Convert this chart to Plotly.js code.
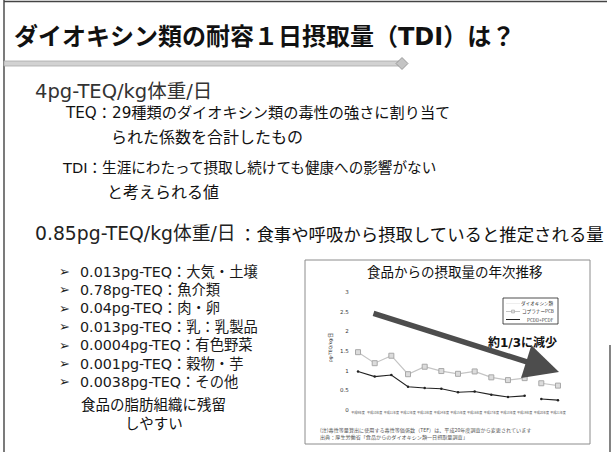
<!DOCTYPE html>
<html>
<head>
<meta charset="utf-8">
<script src="https://cdn.plot.ly/plotly-3.0.1.min.js"></script>
<style>html,body{margin:0;padding:0;background:#fff;}#chart{width:612px;height:452px;}</style>
</head>
<body>
<div id="chart"></div>
<script>
// ---- data ----
const years = ['平成9年度','平成10年度','平成11年度','平成12年度','平成13年度','平成14年度','平成15年度','平成16年度','平成17年度','平成18年度','平成19年度','平成20年度','平成21年度'];
const coplanarPCB = [1.47, 1.19, 1.38, 0.91, 1.10, 0.99, 0.92, 0.98, 0.83, 0.76, 0.81, 0.68, 0.62];
const pcddPcdf    = [0.98, 0.85, 0.89, 0.59, 0.56, 0.54, 0.45, 0.47, 0.39, 0.33, 0.36, 0.28, 0.25];
const seriesNames = ['ダイオキシン類', 'コプラナーPCB', 'PCDD+PCDF'];
const tefChangeIndex = 11; // TEF changed: line is not connected across this point
const yTicks = [0, 0.5, 1, 1.5, 2, 2.5, 3];

const slideTitle = 'ダイオキシン類の耐容１日摂取量（TDI）は？';
const tdiValue = '4pg-TEQ/kg体重/日';
const teqDef1 = 'TEQ：29種類のダイオキシン類の毒性の強さに割り当て';
const teqDef2 = 'られた係数を合計したもの';
const tdiDef1 = 'TDI：生涯にわたって摂取し続けても健康への影響がない';
const tdiDef2 = 'と考えられる値';
const intakeValue = '0.85pg-TEQ/kg体重/日';
const intakeNote = '：食事や呼吸から摂取していると推定される量';
const sourceItems = ['0.013pg-TEQ：大気・土壌','0.78pg-TEQ：魚介類','0.04pg-TEQ：肉・卵','0.013pg-TEQ：乳：乳製品','0.0004pg-TEQ：有色野菜','0.001pg-TEQ：穀物・芋','0.0038pg-TEQ：その他'];
const fatNote = ['食品の脂肪組織に残留', 'しやすい'];
const chartTitle = '食品からの摂取量の年次推移';
const yTitle = 'pg-TEQ/kg/日';
const trendLabel = '約1/3に減少';
const footnotes = ['(注)毒性等量算出に使用する毒性等価係数（TEF）は、平成20年度調査から変更されています', '出典：厚生労働省「食品からのダイオキシン類一日摂取量調査」'];

// ---- helpers ----
const W = 612, H = 452;
const px = x => x / W;
const py = y => 1 - y / H;
const FONT = 'DejaVu Sans, Noto Sans CJK JP, sans-serif';
const CJK = 'Noto Sans CJK JP, sans-serif';

function txt(text, x, y, size, opts) {
  opts = opts || {};
  return Object.assign({
    text: text, xref: 'paper', yref: 'paper', x: px(x), y: py(y),
    xanchor: opts.xanchor || 'left', yanchor: 'middle', showarrow: false,
    font: {family: opts.family || FONT, size: size, color: opts.color || '#111', weight: opts.weight || 'normal'}
  }, opts.extra || {});
}

// ---- traces ----
const pre = [0, tefChangeIndex], post = [tefChangeIndex, years.length];
function seg(arr, r) { return arr.slice(r[0], r[1]); }
const pcbStyle = {mode: 'lines+markers', line: {color: '#c4c4c4', width: 1.2}, marker: {symbol: 'square', size: 5, color: '#dcdcdc', line: {color: '#a8a8a8', width: 1}}, showlegend: false, cliponaxis: false};
const pcdStyle = {mode: 'lines+markers', line: {color: '#222', width: 1.1}, marker: {symbol: 'circle', size: 2.5, color: '#222'}, showlegend: false, cliponaxis: false};
const traces = [
  Object.assign({type: 'scatter', name: seriesNames[1], x: seg(years, pre), y: seg(coplanarPCB, pre)}, pcbStyle),
  Object.assign({type: 'scatter', name: seriesNames[1], x: seg(years, post), y: seg(coplanarPCB, post)}, pcbStyle),
  Object.assign({type: 'scatter', name: seriesNames[2], x: seg(years, pre), y: seg(pcddPcdf, pre)}, pcdStyle),
  Object.assign({type: 'scatter', name: seriesNames[2], x: seg(years, post), y: seg(pcddPcdf, post)}, pcdStyle)
];

// ---- annotations ----
const ann = [];
ann.push(txt(slideTitle, 12, 37, 24, {weight: 'bold'}));
ann.push(txt(tdiValue, 33, 92, 19.5, {color: '#333'}));
ann.push(txt(teqDef1, 63, 113, 15.2));
ann.push(txt(teqDef2, 109, 138, 16));
ann.push(txt(tdiDef1, 60, 167, 14.6));
ann.push(txt(tdiDef2, 105, 192, 16));
ann.push(txt(intakeValue, 33, 233, 18.8, {color: '#222'}));
ann.push(txt(intakeNote, 606, 233, 17.4, {xanchor: 'right', family: CJK}));
sourceItems.forEach((s, i) => {
  const y = 271.5 + i * 18.4;
  ann.push(txt('➢', 57, y, 13, {color: '#222'}));
  ann.push(txt(s, 78, y, 14.3, {color: '#1a1a1a'}));
});
ann.push(txt(fatNote[0], 153, 405, 14.5, {xanchor: 'center'}));
ann.push(txt(fatNote[1], 154, 424, 14.5, {xanchor: 'center'}));
// chart pieces
ann.push(txt(chartTitle, 455, 271, 13.5, {xanchor: 'center', family: CJK}));
ann.push(txt(yTitle, 331, 348, 4.5, {xanchor: 'center', extra: {textangle: -90}}));
ann.push(txt(trendLabel, 522, 342, 12, {xanchor: 'center', weight: 'bold'}));
ann.push(txt(footnotes[0], 318, 430, 5.1, {color: '#555', family: CJK}));
ann.push(txt(footnotes[1], 318, 437, 5.1, {color: '#555', family: CJK}));
// trend arrow
ann.push({xref: 'paper', yref: 'paper', x: px(559), y: py(372), ax: -187, ay: -59, showarrow: true,
  arrowhead: 2, arrowsize: 1.25, arrowwidth: 5.5, arrowcolor: '#4d4d4d', text: ''});
// manual legend text
const legRows = [303.5, 311.5, 319.5];
seriesNames.forEach((n, i) => ann.push(txt(n, 556, legRows[i], 4.6, {xanchor: 'right', family: CJK, color: '#333'})));

// ---- shapes ----
const shapes = [
  // slide frame
  {type: 'line', xref: 'paper', yref: 'paper', x0: px(4), x1: px(4), y0: py(0), y1: py(452), line: {color: '#222', width: 1.2}},
  {type: 'line', xref: 'paper', yref: 'paper', x0: px(4), x1: px(607), y0: py(1.5), y1: py(1.5), line: {color: '#444', width: 1.5}},
  {type: 'line', xref: 'paper', yref: 'paper', x0: px(610), x1: px(610), y0: py(345), y1: py(452), line: {color: '#333', width: 1.2}},
  // title rule
  {type: 'rect', xref: 'paper', yref: 'paper', x0: px(4), x1: px(399), y0: py(61), y1: py(66), fillcolor: '#d2d2d2', line: {color: '#a8a8a8', width: 0.8}},
  {type: 'path', xref: 'paper', yref: 'paper', path: `M${px(396)},${py(63.5)} L${px(402)},${py(57.5)} L${px(408)},${py(63.5)} L${px(402)},${py(69.5)} Z`, fillcolor: '#c4c4c4', line: {color: '#8a8a8a', width: 0.8}},
  // chart frame
  {type: 'rect', xref: 'paper', yref: 'paper', x0: px(305), x1: px(590), y0: py(260), y1: py(444), line: {color: '#8c8c8c', width: 1}},
  // legend box
  {type: 'rect', xref: 'paper', yref: 'paper', x0: px(503), x1: px(558), y0: py(298), y1: py(324), fillcolor: '#fff', line: {color: '#222', width: 0.8}},
  {type: 'line', xref: 'paper', yref: 'paper', x0: px(506), x1: px(520), y0: py(legRows[0]), y1: py(legRows[0]), line: {color: '#eeeeee', width: 1}},
  {type: 'line', xref: 'paper', yref: 'paper', x0: px(506), x1: px(520), y0: py(legRows[1]), y1: py(legRows[1]), line: {color: '#c4c4c4', width: 1}},
  {type: 'rect', xref: 'paper', yref: 'paper', x0: px(511.5), x1: px(514.5), y0: py(legRows[1] - 1.5), y1: py(legRows[1] + 1.5), fillcolor: '#dcdcdc', line: {color: '#a8a8a8', width: 0.6}},
  {type: 'line', xref: 'paper', yref: 'paper', x0: px(506), x1: px(520), y0: py(legRows[2]), y1: py(legRows[2]), line: {color: '#222', width: 1}}
];

const layout = {
  width: W, height: H, autosize: false,
  margin: {l: 0, r: 0, t: 0, b: 0},
  paper_bgcolor: '#fff', plot_bgcolor: 'rgba(0,0,0,0)',
  showlegend: false,
  xaxis: {domain: [px(349.7), px(566.3)], type: 'category', categoryorder: 'array', categoryarray: years,
    range: [-0.5, years.length - 0.5], showgrid: false, zeroline: false, showline: false, ticks: '',
    tickangle: 0, tickfont: {family: CJK, size: 3, color: '#555'}, fixedrange: true},
  yaxis: {domain: [py(410), py(292)], range: [0, 3], tickvals: yTicks, ticktext: yTicks.map(String),
    showgrid: false, zeroline: false, showline: false, ticks: '',
    tickfont: {family: FONT, size: 5.5, color: '#333'}, fixedrange: true},
  annotations: ann,
  shapes: shapes
};

Plotly.newPlot('chart', traces, layout, {displayModeBar: false, staticPlot: true});
</script>
</body>
</html>
